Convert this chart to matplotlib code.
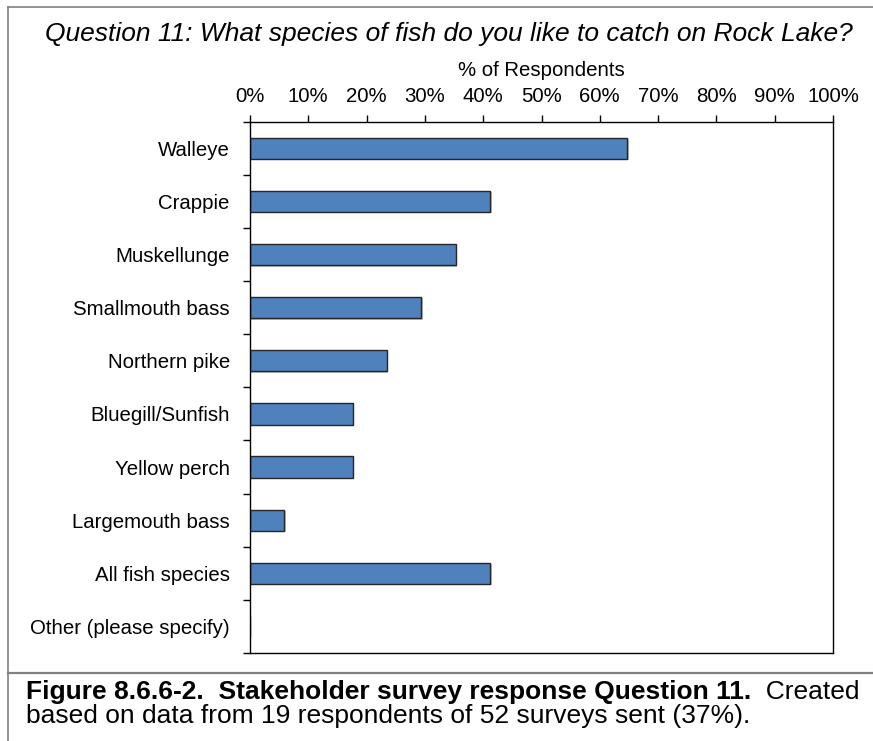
import matplotlib
matplotlib.use("Agg")
import matplotlib.pyplot as plt
import matplotlib.patheffects as pe
from matplotlib.lines import Line2D

species = ["Walleye", "Crappie", "Muskellunge", "Smallmouth bass", "Northern pike",
           "Bluegill/Sunfish", "Yellow perch", "Largemouth bass", "All fish species",
           "Other (please specify)"]
pct = [64.7, 41.2, 35.3, 29.4, 23.5, 17.6, 17.6, 5.9, 41.2, 0.0]
xticks = list(range(0, 101, 10))

title = "Question 11: What species of fish do you like to catch on Rock Lake?"
cap_bold = "Figure 8.6.6-2.  Stakeholder survey response Question 11."
cap_rest = "  Created"
cap_line2 = "based on data from 19 respondents of 52 surveys sent (37%)."

plt.rcParams['font.family'] = ['Liberation Sans', 'DejaVu Sans']

W, H = 873, 741
fig = plt.figure(figsize=(W / 100, H / 100), dpi=100)
ax = fig.add_axes([250 / W, 1 - 653 / H, (833 - 250) / W, (653 - 121.7) / H])

n = len(species)
pos = list(range(n))
ax.barh(pos, pct, height=0.4, color='#4F81BD', edgecolor='#262626', linewidth=1.0,
        path_effects=[pe.SimplePatchShadow(offset=(1, -1), shadow_rgbFace='#999999', alpha=0.6),
                      pe.Normal()])
ax.set_xlim(0, 100)
ax.set_ylim(n - 0.5, -0.5)

ax.xaxis.tick_top()
ax.set_xticks(xticks)
ax.set_xticklabels([f"{t}%" for t in xticks], fontsize=14.7)
ax.tick_params(axis='x', direction='out', length=5, width=1, pad=6.3)

ax.set_yticks(pos)
ax.set_yticklabels(species, fontsize=14.7)
ax.tick_params(axis='y', which='major', length=0, pad=14.5)
ax.set_yticks([i - 0.5 for i in range(n + 1)], minor=True)
ax.tick_params(axis='y', which='minor', length=5, width=1, direction='out')
for s in ax.spines.values():
    s.set_linewidth(1.0)

fig.text(449 / W, 1 - 34 / H, title, style='italic', fontsize=19, ha='center', va='center')
fig.text(541.5 / W, 1 - 70 / H, "% of Respondents", fontsize=14.7, ha='center', va='center')

# frame and caption divider
grey = '#808080'
fig.add_artist(Line2D([7.5 / W, 7.5 / W], [0, 1 - 7 / H], color=grey, lw=1.2))
fig.add_artist(Line2D([7.5 / W, 1], [1 - 7 / H, 1 - 7 / H], color=grey, lw=1.2))
fig.add_artist(Line2D([7.5 / W, 1], [1 - 672.7 / H, 1 - 672.7 / H], color=grey, lw=1.6))

t1 = fig.text(26 / W, 1 - 699 / H, cap_bold, fontsize=19, fontweight='bold', va='baseline')
r = fig.canvas.get_renderer()
bb = t1.get_window_extent(r)
fig.text(bb.x1 / W, 1 - 699 / H, cap_rest, fontsize=19, va='baseline')
fig.text(26 / W, 1 - 723 / H, cap_line2, fontsize=19, va='baseline')

fig.savefig("out.png", dpi=100)
